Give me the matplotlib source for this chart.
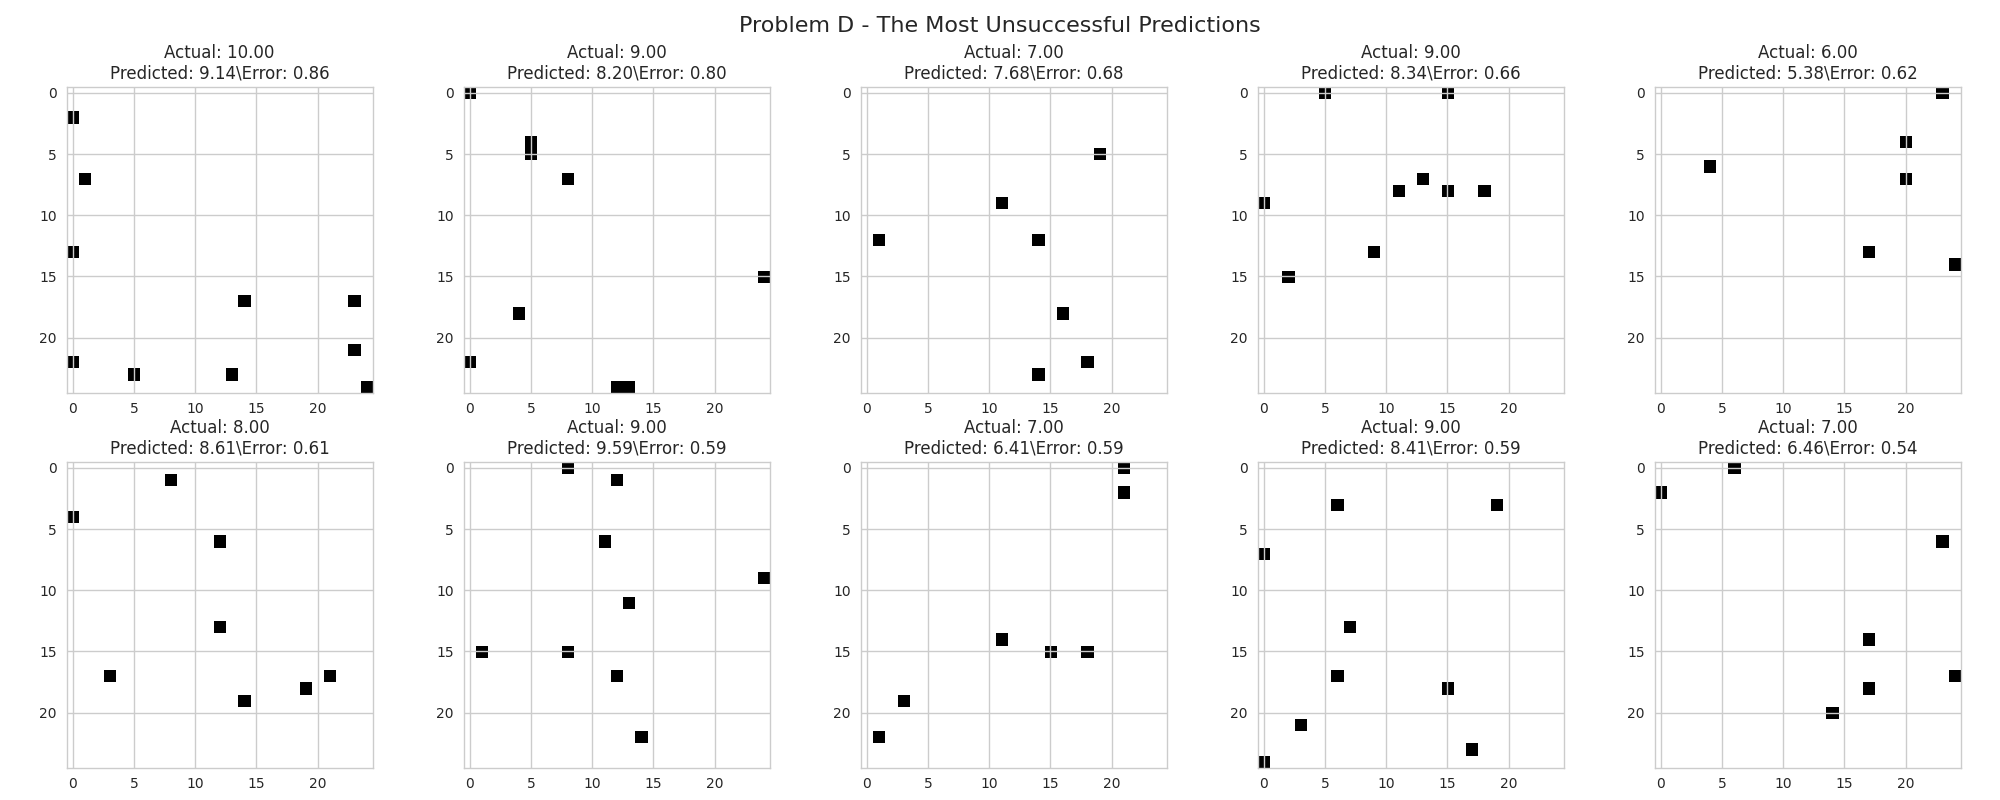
import numpy as np
import matplotlib
matplotlib.use("Agg")
import matplotlib.pyplot as plt
import seaborn as sns

sns.set_style("whitegrid")
plt.rcParams["grid.linewidth"] = 1.0
plt.rcParams["axes.linewidth"] = 1.0

actual = [10, 9, 7, 9, 6, 8, 9, 7, 9, 7]
predicted = [9.14, 8.20, 7.68, 8.34, 5.38, 8.61, 9.59, 6.41, 8.41, 6.46]
errors = [0.86, 0.80, 0.68, 0.66, 0.62, 0.61, 0.59, 0.59, 0.59, 0.54]

# (row, col) of the filled cells in each 25x25 grid
cells = [
    [(2, 0), (7, 1), (13, 0), (17, 14), (17, 23), (21, 23), (22, 0), (23, 5), (23, 13), (24, 24)],
    [(0, 0), (4, 5), (5, 5), (7, 8), (15, 24), (18, 4), (22, 0), (24, 12), (24, 13)],
    [(5, 19), (9, 11), (12, 1), (12, 14), (18, 16), (22, 18), (23, 14)],
    [(0, 5), (0, 15), (7, 13), (8, 11), (8, 15), (8, 18), (9, 0), (13, 9), (15, 2)],
    [(0, 23), (4, 20), (6, 4), (7, 20), (13, 17), (14, 24)],
    [(1, 8), (4, 0), (6, 12), (13, 12), (17, 3), (17, 21), (18, 19), (19, 14)],
    [(0, 8), (1, 12), (6, 11), (9, 24), (11, 13), (15, 1), (15, 8), (17, 12), (22, 14)],
    [(0, 21), (2, 21), (14, 11), (15, 15), (15, 18), (19, 3), (22, 1)],
    [(3, 6), (3, 19), (7, 0), (13, 7), (17, 6), (18, 15), (21, 3), (23, 17), (24, 0)],
    [(0, 6), (2, 0), (6, 23), (14, 17), (17, 24), (18, 17), (20, 14)],
]

fig, axes = plt.subplots(2, 5, figsize=(20, 8))

for i, ax in enumerate(axes.flat):
    grid = np.zeros((25, 25))
    for r, c in cells[i]:
        grid[r, c] = 1
    ax.imshow(grid, cmap="gray_r")
    ax.set_title(f"Actual: {actual[i]:.2f}\nPredicted: {predicted[i]:.2f}\\Error: {errors[i]:.2f}")

fig.suptitle("Problem D - The Most Unsuccessful Predictions", fontsize=16)
fig.tight_layout()
fig.savefig("out.png", dpi=100)
